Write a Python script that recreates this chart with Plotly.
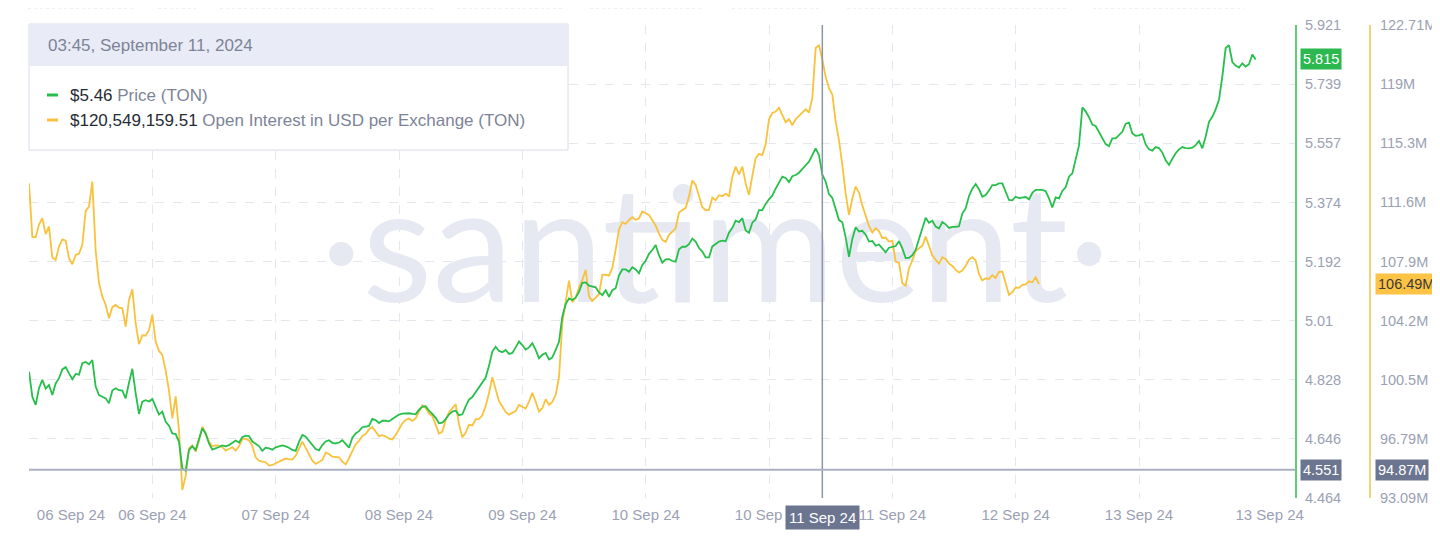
import pandas as pd
import plotly.graph_objects as go

# TON price (USD) and open interest per exchange (million USD), half-hourly.
# *_ON: samples at hh:45 starting at START, *_HALF: samples 30 minutes later.
START = "2024-09-06 04:45"
PRICE_ON = [
    4.853, 4.751, 4.828, 4.812, 4.817, 4.860, 4.848, 4.846, 4.879, 4.876,
    4.807, 4.776, 4.756, 4.802, 4.795, 4.819, 4.787, 4.761, 4.761, 4.745,
    4.730, 4.687, 4.661, 4.555, 4.612, 4.612, 4.679, 4.632, 4.616, 4.626,
    4.627, 4.641, 4.651, 4.655, 4.630, 4.609, 4.617, 4.620, 4.626, 4.619,
    4.609, 4.658, 4.640, 4.615, 4.627, 4.642,
    4.632, 4.642, 4.619, 4.663, 4.682, 4.686, 4.704, 4.702, 4.700, 4.715,
    4.724, 4.725, 4.722, 4.745, 4.733, 4.711, 4.696, 4.721, 4.733, 4.722,
    4.767, 4.790, 4.817, 4.871, 4.930, 4.913, 4.908, 4.928, 4.935, 4.928,
    4.920, 4.905, 4.891, 4.920, 5.023, 5.079, 5.081, 5.127, 5.118, 5.113,
    5.089, 5.084, 5.110, 5.168, 5.161, 5.168, 5.182,
    5.216, 5.243, 5.189, 5.200, 5.192, 5.238, 5.246, 5.254, 5.223, 5.205,
    5.246, 5.257, 5.281, 5.318, 5.326, 5.281, 5.322, 5.351, 5.384, 5.417,
    5.454, 5.437, 5.459, 5.476, 5.500, 5.541, 5.460, 5.400, 5.351, 5.313,
    5.207, 5.298, 5.287, 5.254, 5.241, 5.233, 5.235, 5.240, 5.233, 5.204,
    5.228, 5.296, 5.312, 5.300, 5.314, 5.296, 5.299, 5.340,
    5.394, 5.431, 5.392, 5.411, 5.428, 5.433, 5.382, 5.392, 5.390, 5.384,
    5.413, 5.413, 5.387, 5.390, 5.410, 5.454, 5.510, 5.667, 5.637, 5.610,
    5.572, 5.548, 5.572, 5.592, 5.620, 5.580, 5.585, 5.538, 5.545, 5.528,
    5.490, 5.526, 5.545, 5.541, 5.551, 5.541, 5.623, 5.661, 5.762, 5.859,
    5.796, 5.803, 5.800, 5.815,
]
PRICE_HALF = [
    4.776, 4.802, 4.801, 4.781, 4.833, 4.867, 4.830, 4.844, 4.883, 4.889,
    4.781, 4.771, 4.795, 4.796, 4.771, 4.862, 4.723, 4.765, 4.769, 4.721,
    4.699, 4.663, 4.637, 4.548, 4.623, 4.647, 4.662, 4.613, 4.621, 4.623,
    4.634, 4.635, 4.656, 4.638, 4.624, 4.619, 4.613, 4.624, 4.623, 4.612,
    4.637, 4.653, 4.626, 4.611, 4.638, 4.634,
    4.635, 4.631, 4.650, 4.670, 4.684, 4.708, 4.695, 4.702, 4.707, 4.721,
    4.725, 4.723, 4.736, 4.747, 4.723, 4.694, 4.707, 4.730, 4.719, 4.746,
    4.775, 4.806, 4.835, 4.915, 4.917, 4.920, 4.911, 4.946, 4.921, 4.941,
    4.894, 4.911, 4.897, 4.945, 5.061, 5.074, 5.099, 5.128, 5.115, 5.097,
    5.104, 5.104, 5.150, 5.168, 5.175, 5.156, 5.195,
    5.228, 5.212, 5.199, 5.194, 5.230, 5.238, 5.263, 5.234, 5.205, 5.239,
    5.254, 5.255, 5.296, 5.314, 5.288, 5.312, 5.351, 5.370, 5.396, 5.437,
    5.450, 5.455, 5.466, 5.489, 5.521, 5.520, 5.439, 5.388, 5.320, 5.267,
    5.262, 5.285, 5.275, 5.256, 5.245, 5.221, 5.238, 5.255, 5.203, 5.212,
    5.262, 5.327, 5.318, 5.294, 5.307, 5.299, 5.301,
    5.356, 5.417, 5.415, 5.397, 5.428, 5.433, 5.409, 5.381, 5.388, 5.391,
    5.404, 5.413, 5.409, 5.359, 5.387, 5.421, 5.464, 5.550, 5.655, 5.614,
    5.591, 5.554, 5.572, 5.582, 5.617, 5.587, 5.581, 5.553, 5.534, 5.542,
    5.504, 5.509, 5.538, 5.542, 5.543, 5.564, 5.577, 5.638, 5.691, 5.850,
    5.807, 5.790, 5.793, 5.830,
]
OI_ON = [
    112.80, 109.42, 110.61, 110.09, 108.00, 109.29, 108.10, 108.31, 108.94, 111.34,
    108.58, 105.70, 104.35, 105.18, 104.97, 105.49, 104.03, 103.28, 103.62, 102.89,
    102.05, 99.82, 99.46, 93.60, 96.21, 96.00, 97.56, 96.62, 96.39, 96.27,
    96.16, 96.06, 96.77, 96.69, 95.64, 95.37, 95.12, 95.27, 95.43, 95.52,
    95.73, 96.62, 95.79, 95.22, 95.47, 95.85,
    95.68, 95.37, 95.58, 96.46, 96.98, 97.40, 97.25, 97.02, 96.81, 97.04,
    97.77, 98.06, 98.08, 98.90, 98.38, 97.73, 97.25, 98.46, 98.96, 96.89,
    97.67, 98.02, 98.27, 99.65, 99.82, 98.82, 98.31, 98.54, 98.82, 99.13,
    99.13, 98.71, 98.92, 99.55, 104.03, 106.70, 105.64, 106.75, 105.70, 105.64,
    107.06, 107.02, 108.63, 110.36, 110.50, 110.50, 111.03,
    110.82, 110.15, 109.25, 109.57, 109.98, 111.13, 111.97, 112.70, 111.30, 111.13,
    111.74, 111.99, 111.97, 113.84, 113.84, 112.07, 114.37, 114.57, 116.81, 117.29,
    117.12, 116.81, 116.81, 117.25, 117.23, 121.27, 120.55, 118.75, 116.66, 113.95,
    110.82, 112.59, 111.40, 110.13, 109.98, 109.36, 109.15, 107.90, 106.54, 107.48,
    108.56, 108.88, 108.83, 108.00, 108.17, 107.77, 107.37, 107.33,
    108.02, 107.96, 106.71, 106.81, 106.87, 107.27, 105.81, 106.27, 106.44, 106.66,
    106.91,
]
OI_HALF = [
    109.44, 110.21, 109.61, 108.15, 108.83, 109.21, 107.73, 108.40, 111.07, 112.90,
    106.54, 105.18, 105.04, 105.01, 103.82, 106.16, 102.72, 103.26, 104.56, 102.30,
    101.07, 98.08, 97.29, 94.47, 96.39, 96.67, 97.15, 96.33, 96.37, 96.06,
    96.27, 96.33, 96.81, 96.35, 95.43, 95.33, 95.16, 95.35, 95.56, 95.50,
    96.23, 96.23, 95.43, 95.35, 95.93, 95.68,
    95.64, 95.20, 96.02, 96.67, 97.10, 97.54, 96.96, 96.94, 96.75, 97.42,
    97.98, 97.92, 98.48, 98.73, 98.23, 97.12, 97.98, 98.73, 97.71, 97.17,
    97.63, 98.04, 98.84, 100.65, 99.15, 98.48, 98.40, 98.92, 98.69, 99.67,
    98.50, 99.27, 99.11, 100.65, 105.47, 105.35, 106.27, 107.37, 105.43, 105.85,
    107.08, 107.50, 109.92, 110.25, 110.67, 110.61, 110.90,
    110.48, 109.65, 109.13, 109.77, 110.96, 111.26, 112.97, 112.01, 111.11, 111.90,
    112.05, 112.15, 113.20, 113.36, 112.80, 113.26, 114.64, 115.26, 117.20, 117.52,
    116.62, 116.43, 117.02, 117.43, 118.14, 121.44, 119.46, 118.35, 115.49, 112.15,
    111.84, 112.22, 110.78, 109.71, 109.80, 109.40, 109.19, 107.81, 106.39, 107.96,
    108.73, 109.46, 108.29, 107.77, 108.06, 107.62, 107.21,
    107.62, 108.17, 107.12, 106.85, 107.04, 107.25, 106.58, 105.98, 106.25, 106.46,
    106.60, 106.49,
]

PRICE_TICKS = [4.464, 4.646, 4.828, 5.01, 5.192, 5.374, 5.557, 5.739, 5.921]
OI_TICKS = [93.09, 96.79, 100.5, 104.2, 107.9, 111.6, 115.3, 119, 122.71]
OI_TICK_TEXT = ["93.09M", "96.79M", "100.5M", "104.2M", "107.9M",
                "111.6M", "115.3M", "119M", "122.71M"]

# hover state shown in the screenshot
CROSS_TIME = "2024-09-11 03:45"
CROSS_PRICE = 4.551
CROSS_OI = 94.87
TIP_PRICE = 5.46
TIP_OI_USD = 120549159.51

GREEN = "#26bf4b"
YELLOW = "#f8c23c"
GREY_TXT = "#9aa1b3"
DARK_BADGE = "#6c7590"
FONT = "Liberation Sans, Arial"

# the page body has an 8px margin, so the figure starts at (8, 8)
PAGE = 8
L, R_EDGE, T, B_EDGE = 29, 1440, 25, 498
W, H = R_EDGE - L, B_EDGE - T


def fx(px):
    return (px - L) / W


def fy(py):
    return (B_EDGE - py) / H


X_END = fx(1295)
OI_POS = fx(1370)


def series(on, half):
    t0 = pd.Timestamp(START)
    s_on = pd.Series(on, index=[t0 + pd.Timedelta(hours=i) for i in range(len(on))])
    s_half = pd.Series(half, index=[t0 + pd.Timedelta(hours=i, minutes=30) for i in range(len(half))])
    return pd.concat([s_on, s_half]).sort_index()


price = series(PRICE_ON, PRICE_HALF)
oi = series(OI_ON, OI_HALF)

x0 = pd.Timestamp(START)
x1 = x0 + pd.Timedelta(hours=189.9)

grid_h = [18.5 * i for i in range(10)]
label_h = [6.3] + grid_h[1:] + [186.1]
grid_t = [x0 + pd.Timedelta(hours=h) for h in grid_h]
label_t = [x0 + pd.Timedelta(hours=h) for h in label_h]
fmt = "%Y-%m-%d %H:%M:%S"

fig = go.Figure()

# watermark first so the lines sit on top of it
fig.add_trace(go.Scatter(
    x=[x0 + (x1 - x0) * 0.542], y=[OI_TICKS[0] + 0.5 * (OI_TICKS[-1] - OI_TICKS[0])],
    mode="text", text=["·santiment·"],
    textfont={"family": "Lato", "size": 162, "color": "#e6e8f2"},
    yaxis="y", hoverinfo="skip", showlegend=False,
))
fig.add_trace(go.Scatter(
    x=oi.index, y=oi.values, mode="lines", name="Open Interest",
    line={"color": YELLOW, "width": 1.8}, yaxis="y", showlegend=False,
))
fig.add_trace(go.Scatter(
    x=price.index, y=price.values, mode="lines", name="Price",
    line={"color": GREEN, "width": 1.8}, yaxis="y2", showlegend=False,
))

tick_font = {"family": FONT, "size": 14.5, "color": GREY_TXT}

fig.update_layout(
    width=1440 - PAGE, height=543 - PAGE,
    margin={"l": L - PAGE, "r": 0, "t": T - PAGE, "b": 543 - B_EDGE, "autoexpand": False},
    paper_bgcolor="white", plot_bgcolor="white",
    hovermode=False,
    font={"family": FONT},
    xaxis={
        "type": "date", "domain": [0, X_END], "range": [x0.strftime(fmt), x1.strftime(fmt)],
        "tickmode": "array",
        "tickvals": [d.strftime(fmt) for d in label_t],
        "ticktext": [d.strftime("%d %b %y") for d in label_t],
        "tickfont": {"family": FONT, "size": 15, "color": GREY_TXT},
        "ticks": "", "showgrid": False, "zeroline": False, "showline": False,
        "ticklabelstandoff": 6, "automargin": False,
        "minor": {"tickmode": "array", "tickvals": [d.strftime(fmt) for d in grid_t],
                  "showgrid": True, "gridcolor": "#e4e7ee", "griddash": "dash",
                  "gridwidth": 1, "ticks": ""},
    },
    yaxis={
        "range": [OI_TICKS[0], OI_TICKS[-1]], "anchor": "free", "position": OI_POS,
        "side": "right", "tickmode": "array", "tickvals": OI_TICKS, "ticktext": OI_TICK_TEXT,
        "tickfont": tick_font, "showgrid": False, "zeroline": False,
        "showline": True, "linecolor": "#f3d27a", "linewidth": 2,
        "ticks": "", "ticklabelstandoff": 6, "automargin": False,
    },
    yaxis2={
        "range": [PRICE_TICKS[0], PRICE_TICKS[-1]], "overlaying": "y", "anchor": "x",
        "side": "right", "tickmode": "array", "tickvals": PRICE_TICKS,
        "ticktext": [f"{v:g}" for v in PRICE_TICKS],
        "tickfont": tick_font, "showgrid": True, "gridcolor": "#e4e7ee",
        "griddash": "dash", "zeroline": False,
        "showline": True, "linecolor": "#5fcf77", "linewidth": 2,
        "ticks": "", "ticklabelstandoff": 5, "automargin": False,
    },
)

shapes = [
    # crosshair
    dict(type="line", xref="x", yref="paper", x0=CROSS_TIME, x1=CROSS_TIME, y0=0, y1=1,
         line={"color": "#8c94a8", "width": 1.5}),
    dict(type="line", xref="paper", yref="y2", x0=0, x1=X_END, y0=CROSS_PRICE, y1=CROSS_PRICE,
         line={"color": "#a9b1c3", "width": 2}),
    # tooltip card
    dict(type="rect", xref="paper", yref="paper", x0=fx(29), x1=fx(568), y0=fy(150), y1=fy(24),
         fillcolor="white", line={"color": "#d8dce6", "width": 1}),
    dict(type="rect", xref="paper", yref="paper", x0=fx(29.5), x1=fx(567.5), y0=fy(66), y1=fy(24.5),
         fillcolor="#e9ebf6", line={"width": 0}),
    dict(type="line", xref="paper", yref="paper", x0=fx(47), x1=fx(58), y0=fy(95), y1=fy(95),
         line={"color": GREEN, "width": 3}),
    dict(type="line", xref="paper", yref="paper", x0=fx(47), x1=fx(58), y0=fy(120), y1=fy(120),
         line={"color": YELLOW, "width": 3}),
    # toolbar remnants cut off at the top of the screenshot
    dict(type="rect", xref="paper", yref="paper", x0=fx(680), x1=fx(702), y0=fy(4), y1=fy(-2),
         fillcolor="#2cc27a", line={"width": 0}),
]
for a, b in [(28, 136), (158, 196), (220, 433), (457, 564), (590, 703),
             (732, 820), (847, 1068), (1093, 1244)]:
    shapes.append(dict(type="line", xref="paper", yref="paper", x0=fx(a), x1=fx(b),
                       y0=fy(8), y1=fy(8), line={"color": "#dde0e7", "width": 1, "dash": "dot"}))
fig.update_layout(shapes=shapes)

tip_font = {"family": FONT, "size": 17, "color": "#7d8497"}
value_span = "<span style='color:#262b36'>{}</span>"
annotations = [
    dict(xref="paper", yref="paper", x=fx(46), y=fy(45), xanchor="left", yanchor="middle",
         text=pd.Timestamp(CROSS_TIME).strftime("%H:%M, %B %d, %Y"), showarrow=False,
         font=tip_font),
    dict(xref="paper", yref="paper", x=fx(68), y=fy(95), xanchor="left", yanchor="middle",
         text=value_span.format(f"${TIP_PRICE:.2f}") + " Price (TON)", showarrow=False,
         font=tip_font),
    dict(xref="paper", yref="paper", x=fx(68), y=fy(120), xanchor="left", yanchor="middle",
         text=value_span.format(f"${TIP_OI_USD:,.2f}") + " Open Interest in USD per Exchange (TON)",
         showarrow=False, font=tip_font),
    # last-value badges
    dict(xref="paper", yref="y2", x=X_END, y=price.iloc[-1], xanchor="left", xshift=5,
         text=f"{price.iloc[-1]:.3f}", showarrow=False, bgcolor="#2bb84f", borderpad=2,
         font={"family": FONT, "size": 14.5, "color": "white"}),
    dict(xref="paper", yref="y", x=OI_POS, y=oi.iloc[-1], xanchor="left", xshift=5,
         text=f"{oi.iloc[-1]:.2f}M", showarrow=False, bgcolor="#fcc345", borderpad=2,
         font={"family": FONT, "size": 14.5, "color": "#3a3a3a"}),
    # crosshair badges
    dict(xref="paper", yref="y2", x=X_END, y=CROSS_PRICE, xanchor="left", xshift=5,
         text=f"{CROSS_PRICE:.3f}", showarrow=False, bgcolor=DARK_BADGE, borderpad=2,
         font={"family": FONT, "size": 14.5, "color": "white"}),
    dict(xref="paper", yref="y", x=OI_POS, y=CROSS_OI, xanchor="left", xshift=5,
         text=f"{CROSS_OI:.2f}M", showarrow=False, bgcolor=DARK_BADGE, borderpad=2,
         font={"family": FONT, "size": 14.5, "color": "white"}),
    dict(xref="x", yref="paper", x=CROSS_TIME, y=0, yanchor="top", yshift=-7,
         text=pd.Timestamp(CROSS_TIME).strftime("%d %b %y"), showarrow=False,
         bgcolor=DARK_BADGE, borderpad=3,
         font={"family": FONT, "size": 15, "color": "white"}),
]
fig.update_layout(annotations=annotations)

fig.write_html("out.html")
